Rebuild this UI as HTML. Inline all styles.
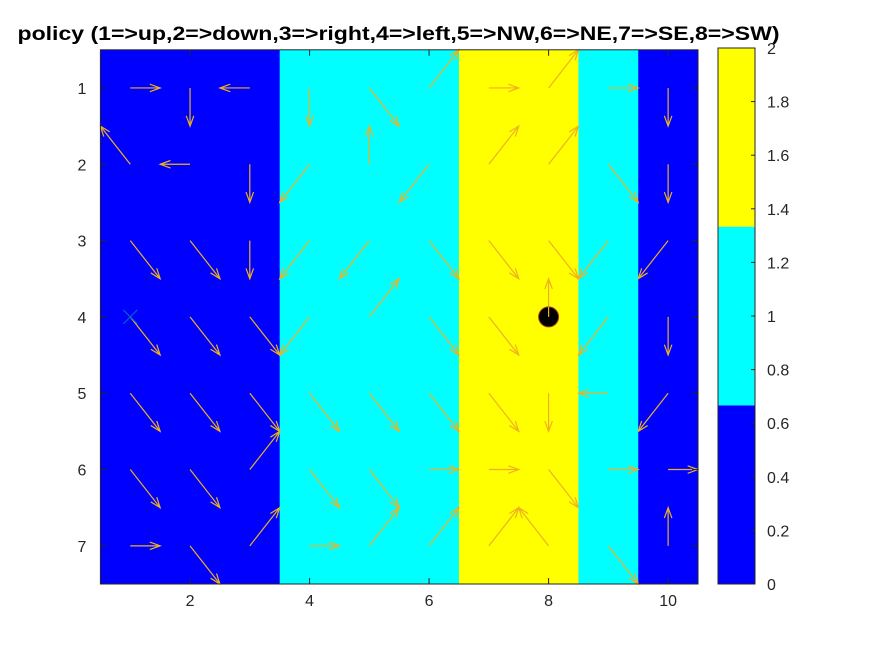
<!DOCTYPE html>
<html><head><meta charset="utf-8"><style>
body{margin:0;background:#fff;}
svg{display:block;font-family:"Liberation Sans",Arial,sans-serif;}
</style></head><body>
<svg id="chart" width="875" height="656" viewBox="0 0 875 656">
<rect width="875" height="656" fill="#ffffff"/>
<text x="398.5" y="40" font-size="19" font-weight="bold" text-anchor="middle" textLength="762" lengthAdjust="spacingAndGlyphs" fill="#000">policy (1=&gt;up,2=&gt;down,3=&gt;right,4=&gt;left,5=&gt;NW,6=&gt;NE,7=&gt;SE,8=&gt;SW)</text>
<g id="cells"></g>
<g id="arrows"></g>
<g id="axes"></g>
<g id="cbar"></g>
</svg>
<script>
// column values (0=blue,1=cyan,2=yellow)
const columnValues = [0,0,0,1,1,1,2,2,1,0];
// policy per row (rows 1..7), per column 1..10
const policyRows = [
  [3,2,4,2,7,6,3,6,3,2],
  [5,4,2,8,1,8,6,6,7,2],
  [7,7,2,8,8,7,7,7,8,8],
  [7,7,7,8,6,7,7,1,8,2],
  [7,7,7,7,7,7,7,2,4,8],
  [7,7,6,7,7,3,3,7,3,3],
  [3,7,6,3,6,6,6,5,7,1]
];
const xTicks = [2,4,6,8,10];
const yTicks = [1,2,3,4,5,6,7];
const cbarTicks = [0,0.2,0.4,0.6,0.8,1,1.2,1.4,1.6,1.8,2];
const startPos = [1,4];   // x, y
const goalPos = [8,4];

const NS='http://www.w3.org/2000/svg';
const L=100.4,R=698,T=49.8,B=584;
const X=v=>L+(v-0.5)*(R-L)/10;
const Y=v=>T+(v-0.5)*(B-T)/7;
const colors=['#0000ff','#00ffff','#ffff00'];
function mk(tag,attrs,parent){const e=document.createElementNS(NS,tag);for(const k in attrs)e.setAttribute(k,attrs[k]);parent.appendChild(e);return e;}
const cells=document.getElementById('cells');
columnValues.forEach((v,i)=>{
  for(let r=0;r<7;r++){
    const e=mk('rect',{x:X(i+0.5),y:Y(r+0.5),width:X(i+1.5)-X(i+0.5)+0.5,height:Y(r+1.5)-Y(r+0.5)+0.5,fill:colors[v]},cells);
    
    
  }
});
const dirs={1:[0,-1],2:[0,1],3:[1,0],4:[-1,0],5:[-1,-1],6:[1,-1],7:[1,1],8:[-1,1]};
const arrows=document.getElementById('arrows');
policyRows.forEach((row,r)=>row.forEach((p,c)=>{
  const d=dirs[p];const x0=X(c+1),y0=Y(r+1);
  const x1=X(c+1+0.5*d[0]),y1=Y(r+1+0.5*d[1]);
  const g=mk('g',{stroke:'#EDB120','stroke-width':1.2,fill:'none'},arrows);
  
  
  mk('line',{x1:x0,y1:y0,x2:x1,y2:y1},g);
  const ang=Math.atan2(y1-y0,x1-x0),h=11,a=0.35;
  mk('polyline',{points:`${x1-h*Math.cos(ang-a)},${y1-h*Math.sin(ang-a)} ${x1},${y1} ${x1-h*Math.cos(ang+a)},${y1-h*Math.sin(ang+a)}`},g);
}));
const gc=mk('circle',{cx:X(goalPos[0]),cy:Y(goalPos[1]),r:10,fill:'#000',stroke:'#a0401a','stroke-width':1},arrows);


mk('line',{x1:X(goalPos[0]),y1:Y(goalPos[1]),x2:X(goalPos[0]),y2:Y(goalPos[1])-10,stroke:'#EDB120','stroke-width':1.2},arrows);
const sx=X(startPos[0]),sy=Y(startPos[1]);
const sm=mk('path',{d:`M${sx-7},${sy-7}L${sx+7},${sy+7}M${sx-7},${sy+7}L${sx+7},${sy-7}`,stroke:'#0072BD','stroke-width':1},arrows);


const axes=document.getElementById('axes');
mk('rect',{x:L,y:T,width:R-L,height:B-T,fill:'none',stroke:'#262626','stroke-width':1},axes);
xTicks.forEach(t=>{
  mk('line',{x1:X(t),x2:X(t),y1:B,y2:B-6,stroke:'#262626'},axes);
  mk('line',{x1:X(t),x2:X(t),y1:T,y2:T+6,stroke:'#262626'},axes);
  const e=mk('text',{x:X(t),y:B+22,'font-size':16,'text-anchor':'middle',fill:'#262626'},axes);
  e.textContent=t;
  
  
});
yTicks.forEach(t=>{
  mk('line',{x1:L,x2:L+6,y1:Y(t),y2:Y(t),stroke:'#262626'},axes);
  mk('line',{x1:R,x2:R-6,y1:Y(t),y2:Y(t),stroke:'#262626'},axes);
  const e=mk('text',{x:L-14,y:Y(t)+6,'font-size':16,'text-anchor':'end',fill:'#262626'},axes);
  e.textContent=t;
  
  
});
const cb=document.getElementById('cbar');
const CL=718,CR=755,CT=48,CB=584;
const CY=v=>CB-(v/2)*(CB-CT);
colors.forEach((c,i)=>{
  const e=mk('rect',{x:CL,y:CY((i+1)*2/3),width:CR-CL,height:CY(i*2/3)-CY((i+1)*2/3),fill:c},cb);
  
  
});
mk('rect',{x:CL,y:CT,width:CR-CL,height:CB-CT,fill:'none',stroke:'#262626'},cb);
cbarTicks.forEach(t=>{
  mk('line',{x1:CR,x2:CR-4,y1:CY(t),y2:CY(t),stroke:'#262626'},cb);
  const e=mk('text',{x:CR+12,y:CY(t)+6,'font-size':16,fill:'#262626'},cb);
  e.textContent=t;
  
  
});
</script>
</body></html>
